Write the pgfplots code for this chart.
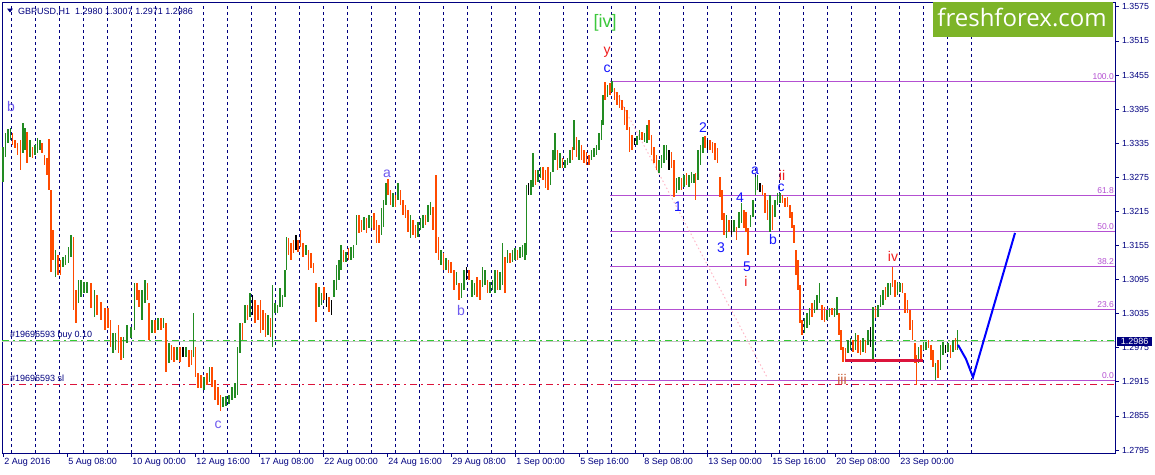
\documentclass[border=0pt]{standalone}
\usepackage{fontspec}
\setmainfont{Liberation Sans}
\newfontfamily\opensans{Open Sans}
\usepackage{pgfplots}
\usepackage{pgfplotstable}
\pgfplotsset{compat=1.18}
\definecolor{mtnavy}{RGB}{0,0,128}
\definecolor{cgreen}{RGB}{34,139,34}
\definecolor{corange}{RGB}{255,75,0}
\definecolor{fibc}{RGB}{180,80,210}
\definecolor{ordgreen}{RGB}{50,205,50}
\definecolor{ordred}{RGB}{220,20,60}
\definecolor{logogreen}{RGB}{125,180,40}
\definecolor{wblue}{RGB}{20,20,255}
\definecolor{wslate}{RGB}{110,90,240}
\definecolor{wred}{RGB}{240,30,30}
\definecolor{wbrown}{RGB}{200,90,50}
\definecolor{wgreen}{RGB}{60,200,60}
\definecolor{pinkdot}{RGB}{255,185,200}
\definecolor{projblue}{RGB}{0,0,255}

\pgfplotstableread{
x hi lo
3 1.3328 1.3267
5.5 1.3353 1.3311
8 1.3360 1.3335
10.5 1.3362 1.3341
23 1.3371 1.3318
25 1.3362 1.3323
30 1.3341 1.3311
35 1.3332 1.3314
37.5 1.3344 1.3318
40 1.3341 1.3323
55.5 1.3147 1.3099
63 1.3135 1.3117
65.5 1.3138 1.3121
68.5 1.3152 1.3124
71 1.3173 1.3135
78.5 1.3094 1.3054
81 1.3094 1.3064
84 1.3091 1.3071
87 1.3091 1.3071
94.5 1.3077 1.3029
113 1.3001 1.2966
115.5 1.3001 1.2971
123.5 1.2994 1.2957
127 1.3015 1.2983
131 1.3011 1.2992
134.5 1.3089 1.3006
142 1.3077 1.3024
145 1.3094 1.3054
152 1.3024 1.3001
158 1.3027 1.3006
163.5 1.3027 1.3010
169 1.2983 1.2948
177 1.2976 1.2953
186 1.2976 1.2959
193.5 1.3036 1.2959
204 1.2923 1.2901
209.5 1.2941 1.2915
223 1.2888 1.2871
226 1.2890 1.2872
229 1.2892 1.2876
232 1.2906 1.2883
235 1.2913 1.2887
237.5 1.2976 1.2892
240 1.3019 1.2966
245 1.3050 1.3019
250 1.3071 1.3029
268 1.3033 1.2997
272.5 1.3085 1.2976
275 1.3054 1.3036
277.5 1.3050 1.3036
280 1.3080 1.3047
282.5 1.3068 1.3047
285 1.3112 1.3064
286.5 1.3170 1.3112
306 1.3156 1.3138
319 1.3082 1.3047
321.5 1.3071 1.3050
334 1.3094 1.3064
336.5 1.3121 1.3077
339 1.3129 1.3094
341 1.3156 1.3112
346 1.3143 1.3126
351 1.3152 1.3129
353.5 1.3156 1.3133
356.5 1.3209 1.3156
364 1.3205 1.3182
369 1.3209 1.3186
371.5 1.3205 1.3186
381.5 1.3221 1.3173
383.5 1.3235 1.3187
386 1.3265 1.3226
393 1.3247 1.3223
398 1.3265 1.3235
410.5 1.3209 1.3168
418 1.3196 1.3170
420.5 1.3203 1.3182
423 1.3209 1.3186
428 1.3226 1.3196
430.5 1.3231 1.3209
441 1.3147 1.3121
446 1.3133 1.3112
456.5 1.3108 1.3085
461.5 1.3089 1.3063
464 1.3112 1.3077
472 1.3094 1.3064
474.5 1.3089 1.3068
482.5 1.3117 1.3082
485 1.3112 1.3085
490 1.3091 1.3071
492.5 1.3094 1.3077
495 1.3112 1.3071
500 1.3108 1.3077
502.5 1.3159 1.3085
507.5 1.3147 1.3124
512.5 1.3147 1.3126
515 1.3151 1.3129
520 1.3152 1.3133
522.5 1.3156 1.3135
525 1.3159 1.3129
526.5 1.3261 1.3138
531 1.3270 1.3244
533 1.3318 1.3258
538 1.3288 1.3267
540.5 1.3293 1.3274
550.5 1.3284 1.3261
553 1.3323 1.3284
555 1.3353 1.3305
560 1.3318 1.3291
565 1.3305 1.3291
567.5 1.3309 1.3297
570 1.3323 1.3300
574 1.3376 1.3323
579 1.3341 1.3305
591.5 1.3323 1.3305
594 1.3327 1.3311
596.5 1.3332 1.3314
599 1.3353 1.3323
601.5 1.3376 1.3341
603 1.3420 1.3367
607.5 1.3437 1.3416
612 1.3444 1.3425
637 1.3348 1.3332
639.5 1.3358 1.3341
644.5 1.3353 1.3337
647 1.3367 1.3335
659 1.3305 1.3283
661.5 1.3314 1.3291
664 1.3332 1.3300
666.5 1.3332 1.3305
676.5 1.3274 1.3247
679 1.3276 1.3253
684 1.3279 1.3258
689 1.3279 1.3258
691.5 1.3284 1.3265
694 1.3281 1.3265
698 1.3323 1.3270
700.5 1.3332 1.3297
703 1.3346 1.3318
726.5 1.3209 1.3168
734 1.3200 1.3179
739 1.3214 1.3186
741.5 1.3230 1.3195
750.5 1.3209 1.3187
753 1.3235 1.3205
755.5 1.3276 1.3244
757.5 1.3279 1.3253
770 1.3244 1.3179
775 1.3235 1.3205
777.5 1.3247 1.3226
780 1.3247 1.3230
804.5 1.3027 1.3001
807 1.3036 1.3010
809.5 1.3045 1.3015
814.5 1.3059 1.3036
817 1.3068 1.3041
819.5 1.3089 1.3054
827 1.3041 1.3024
829.5 1.3045 1.3029
834.5 1.3045 1.3029
837 1.3064 1.3033
848 1.2989 1.2966
850.5 1.2992 1.2971
855.5 1.3001 1.2971
863 1.2992 1.2967
868 1.3006 1.2980
873 1.3047 1.2953
878 1.3050 1.3029
880.5 1.3068 1.3047
883 1.3077 1.3050
888 1.3089 1.3064
890.5 1.3089 1.3068
897.5 1.3091 1.3068
900 1.3089 1.3073
918.5 1.2976 1.2948
923.5 1.2985 1.2971
926 1.2985 1.2971
935.5 1.2948 1.2918
940.5 1.2980 1.2936
943 1.2985 1.2962
948 1.2983 1.2967
953 1.2989 1.2967
957.5 1.3007 1.2971
}\greenbars

\pgfplotstableread{
x hi lo
12.5 1.3353 1.3332
15 1.3341 1.3327
17.5 1.3335 1.3314
20.5 1.3341 1.3288
27 1.3355 1.3300
32.5 1.3328 1.3309
42 1.3335 1.3318
44.5 1.3314 1.3297
47 1.3309 1.3279
49 1.3342 1.3253
51 1.3253 1.3108
53 1.3182 1.3129
58 1.3138 1.3103
60.5 1.3129 1.3103
73.5 1.3170 1.3041
76 1.3077 1.3019
91 1.3089 1.3045
97 1.3068 1.3033
101 1.3055 1.3024
105 1.3045 1.3006
108 1.3045 1.3010
110.5 1.3024 1.2976
118.5 1.3015 1.2966
121 1.2994 1.2953
137 1.3089 1.3059
139 1.3077 1.3047
147.5 1.3089 1.3059
149 1.3054 1.2989
155 1.3024 1.3001
161 1.3027 1.3006
166 1.3019 1.2932
171.5 1.2980 1.2953
174 1.2976 1.2950
180 1.2976 1.2950
189 1.2971 1.2941
191.5 1.2971 1.2945
195.5 1.2976 1.2923
198 1.2931 1.2904
201 1.2927 1.2904
207 1.2931 1.2909
212 1.2941 1.2906
215 1.2918 1.2883
218 1.2906 1.2874
220.5 1.2892 1.2864
242.5 1.3019 1.2989
247.5 1.3050 1.3024
255 1.3059 1.3019
258 1.3050 1.3024
260.5 1.3059 1.3001
263 1.3041 1.3006
265.5 1.3036 1.2994
270.5 1.3027 1.2994
288.5 1.3168 1.3138
291 1.3159 1.3129
293.5 1.3165 1.3142
298 1.3165 1.3143
300.5 1.3182 1.3152
303 1.3159 1.3135
308.5 1.3147 1.3112
311 1.3142 1.3115
313.5 1.3124 1.3107
316 1.3089 1.3020
324 1.3082 1.3059
329 1.3064 1.3038
343.5 1.3147 1.3126
348.5 1.3151 1.3129
359 1.3209 1.3177
361.5 1.3200 1.3179
366.5 1.3203 1.3177
374 1.3212 1.3182
376.5 1.3200 1.3159
379 1.3191 1.3159
388 1.3272 1.3244
390.5 1.3253 1.3226
395.5 1.3244 1.3223
400.5 1.3253 1.3226
403 1.3235 1.3209
405.5 1.3226 1.3203
408 1.3217 1.3179
413 1.3200 1.3173
415.5 1.3191 1.3168
425.5 1.3209 1.3191
433 1.3223 1.3182
436 1.3279 1.3142
438.5 1.3170 1.3129
443.5 1.3142 1.3112
448.5 1.3129 1.3107
451 1.3126 1.3107
454 1.3112 1.3077
459 1.3089 1.3059
469 1.3112 1.3094
477 1.3099 1.3064
480 1.3094 1.3059
487.5 1.3094 1.3071
497.5 1.3112 1.3077
505 1.3135 1.3071
510 1.3142 1.3124
517.5 1.3147 1.3129
535.5 1.3288 1.3261
543 1.3293 1.3270
545.5 1.3288 1.3256
548 1.3293 1.3253
557.5 1.3323 1.3288
562.5 1.3309 1.3291
572.5 1.3328 1.3305
576.5 1.3346 1.3311
581.5 1.3332 1.3305
584 1.3323 1.3300
586.5 1.3319 1.3297
589 1.3314 1.3297
605 1.3443 1.3411
610 1.3441 1.3420
614.5 1.3432 1.3411
617 1.3425 1.3402
619.5 1.3420 1.3397
622 1.3411 1.3393
624.5 1.3399 1.3367
627 1.3393 1.3358
629.5 1.3363 1.3319
632 1.3349 1.3323
642 1.3355 1.3341
649 1.3376 1.3341
651.5 1.3349 1.3314
654 1.3328 1.3300
656.5 1.3314 1.3288
671.5 1.3319 1.3291
674 1.3305 1.3240
681.5 1.3274 1.3253
686.5 1.3283 1.3261
695.5 1.3283 1.3235
705 1.3348 1.3327
710 1.3341 1.3323
712.5 1.3337 1.3318
715 1.3335 1.3305
717.5 1.3327 1.3300
720 1.3276 1.3240
722 1.3253 1.3200
724 1.3212 1.3173
729 1.3200 1.3179
736.5 1.3187 1.3165
744 1.3217 1.3186
746 1.3214 1.3179
748 1.3186 1.3138
762.5 1.3261 1.3244
765 1.3247 1.3212
767.5 1.3235 1.3200
772.5 1.3226 1.3182
782.5 1.3244 1.3230
785 1.3238 1.3223
787.5 1.3240 1.3223
790 1.3226 1.3203
792 1.3214 1.3186
794 1.3191 1.3159
796 1.3147 1.3103
798 1.3129 1.3077
800 1.3085 1.3019
802 1.3024 1.2997
812 1.3054 1.3029
822 1.3050 1.3024
824.5 1.3047 1.3020
832 1.3045 1.3033
839 1.3036 1.2997
841 1.3006 1.2971
843 1.2976 1.2950
845.5 1.2975 1.2950
853 1.2989 1.2967
858 1.2997 1.2966
860.5 1.2989 1.2962
865.5 1.2989 1.2966
875.5 1.3047 1.3027
885.5 1.3082 1.3059
892.5 1.3117 1.3082
895 1.3094 1.3064
902.5 1.3089 1.3071
905 1.3071 1.3036
907.5 1.3059 1.3036
910 1.3041 1.3006
912.5 1.3024 1.2989
915 1.2983 1.2948
916.5 1.2962 1.2909
921 1.2980 1.2953
928.5 1.2989 1.2975
931 1.2980 1.2953
933 1.2971 1.2941
938 1.2953 1.2922
950.5 1.2980 1.2957
955.5 1.2992 1.2971
}\orangebars

\pgfplotstableread{
x hi lo
183 1.2976 1.2959
252.5 1.3068 1.3033
296 1.3173 1.3147
326.5 1.3071 1.3047
331.5 1.3059 1.3033
466.5 1.3117 1.3094
528.5 1.3265 1.3244
634.5 1.3344 1.3332
669 1.3323 1.3288
707.5 1.3341 1.3323
731.5 1.3200 1.3173
760 1.3265 1.3249
870.5 1.3011 1.2976
945.5 1.2980 1.2966
}\blackbars

\pgfplotsset{
  candle/.style={draw=none, mark=none,
    error bars/y dir=both, error bars/y explicit,
    error bars/error mark=none,
    error bars/error bar style={line width=1.7pt, draw=#1}},
}
\newcommand\wl[4]{\node[text=#1, font=\fontsize{14}{16}\selectfont, inner sep=0pt] at (axis cs:#2,#3) {#4};}
\newcommand\fl[2]{\node[anchor=south east, text=fibc, font=\fontsize{8.5}{9}\selectfont, inner xsep=1pt, inner ysep=1.8pt] at (axis cs:1115,#1) {#2};}

\begin{document}
\begin{tikzpicture}
\useasboundingbox (0,0) rectangle (1155pt,474pt);
\begin{axis}[
  at={(2pt,21pt)}, anchor=south west, scale only axis,
  width=1113pt, height=451pt,
  xmin=2, xmax=1115, ymin=1.27897, ymax=1.35835,
  clip=false,
  axis line style={mtnavy, line width=0.9pt},
  axis background/.style={fill=white},
  xtick pos=left, ytick pos=right, yticklabel pos=right,
  tick align=outside, major tick length=3.5pt,
  tick style={mtnavy, line width=0.8pt},
  xtick={3,67,131,195,259,323,387,451,515,579,643,707,771,835,899},
  xticklabels={2 Aug 2016,5 Aug 08:00,10 Aug 00:00,12 Aug 16:00,17 Aug 08:00,22 Aug 00:00,24 Aug 16:00,29 Aug 08:00,1 Sep 00:00,5 Sep 16:00,8 Sep 08:00,13 Sep 00:00,15 Sep 16:00,20 Sep 08:00,23 Sep 00:00},
  xticklabel style={anchor=north west, inner xsep=1.2pt, inner ysep=2pt, font=\fontsize{9}{10}\selectfont, text=mtnavy},
  ytick={1.2795,1.2855,1.2915,1.2975,1.3035,1.3095,1.3155,1.3215,1.3275,1.3335,1.3395,1.3455,1.3515,1.3575},
  yticklabels={1.2795,1.2855,1.2915,1.2975,1.3035,1.3095,1.3155,1.3215,1.3275,1.3335,1.3395,1.3455,1.3515,1.3575},
  yticklabel style={anchor=west, font=\fontsize{8.8}{10}\selectfont, text=mtnavy},
  extra x ticks={11.7,35.7,59.7,83.7,107.7,131.7,155.7,179.7,203.7,227.7,251.7,275.7,299.7,323.7,347.7,371.7,395.7,419.7,443.7,467.7,491.7,515.7,539.7,563.7,587.7,611.7,635.7,659.7,683.7,707.7,731.7,755.7,779.7,803.7,827.7,851.7,875.7,899.7,923.7,947.7,971.7},
  extra x tick labels={},
  extra x tick style={grid=major, major tick length=0pt},
  major grid style={mtnavy, dash pattern=on 3pt off 3pt, line width=0.8pt},
]
% logo
\fill[logogreen] (axis cs:933,1.35835) rectangle (axis cs:1113,1.35219);
\node[text=white, font=\opensans\fontsize{24}{26}\selectfont, anchor=base, inner sep=0pt] at (axis cs:1022,1.3541) {freshforex.com};

% fibonacci levels
\addplot[fibc, line width=1pt] coordinates {(610,1.34436) (1115,1.34436)};
\addplot[fibc, line width=1pt] coordinates {(610,1.32429) (1115,1.32429)};
\addplot[fibc, line width=1pt] coordinates {(610,1.31796) (1115,1.31796)};
\addplot[fibc, line width=1pt] coordinates {(610,1.31180) (1115,1.31180)};
\addplot[fibc, line width=1pt] coordinates {(610,1.30423) (1115,1.30423)};
\addplot[fibc, line width=1pt] coordinates {(610,1.29173) (1115,1.29173)};
\fl{1.34436}{100.0}
\fl{1.32429}{61.8}
\fl{1.31796}{50.0}
\fl{1.31180}{38.2}
\fl{1.30423}{23.6}
\fl{1.29173}{0.0}

% order lines
\addplot[gray!45, line width=1pt] coordinates {(2,1.29859) (1115,1.29859)};
\addplot[ordgreen, line width=1pt, dash pattern=on 7pt off 4pt on 2pt off 4pt] coordinates {(2,1.29877) (1115,1.29877)};
\addplot[ordred, line width=1pt, dash pattern=on 7pt off 4pt on 2pt off 4pt] coordinates {(2,1.29103) (1115,1.29103)};
\node[anchor=base west, text=mtnavy, font=\fontsize{9}{10}\selectfont, inner sep=0pt] at (axis cs:10,1.2993) {\#19696593 buy 0.10};
\node[anchor=base west, text=mtnavy, font=\fontsize{9}{10}\selectfont, inner sep=0pt] at (axis cs:10,1.2915) {\#19696593 sl};

% pink dotted trend line
\addplot[pinkdot, line width=1pt, dash pattern=on 1.5pt off 2.5pt] coordinates {(612,1.3437) (767,1.2923)};

% candles
\addplot[candle=cgreen] table[x=x, y expr={(\thisrow{hi}+\thisrow{lo})/2}, y error expr={(\thisrow{hi}-\thisrow{lo})/2}] {\greenbars};
\addplot[candle=corange] table[x=x, y expr={(\thisrow{hi}+\thisrow{lo})/2}, y error expr={(\thisrow{hi}-\thisrow{lo})/2}] {\orangebars};
\addplot[candle=black] table[x=x, y expr={(\thisrow{hi}+\thisrow{lo})/2}, y error expr={(\thisrow{hi}-\thisrow{lo})/2}] {\blackbars};

% red support line
\addplot[ordred, line width=3pt] coordinates {(845,1.2952) (923,1.2952)};
% blue projection
\addplot[projblue, line width=2pt] coordinates {(958,1.2980) (966,1.2955) (973,1.2923) (1015,1.3177)};

% title
\fill[mtnavy] (axis cs:7,1.3572) -- (axis cs:13,1.3572) -- (axis cs:10,1.3565) -- cycle;
\node[anchor=base west, text=mtnavy, font=\fontsize{9}{10}\selectfont, inner sep=0pt] at (axis cs:18,1.3562) {GBPUSD,H1\ \ 1.2980 1.3007 1.2971 1.2986};

% wave labels
\wl{wslate}{11}{1.3400}{b}
\wl{wslate}{387}{1.3281}{a}
\wl{wslate}{461}{1.3040}{b}
\wl{wslate}{218}{1.2839}{c}
\wl{wblue}{607}{1.3466}{c}
\wl{wred}{607}{1.3495}{y}
\node[text=wgreen, font=\fontsize{18}{20}\selectfont, inner sep=0pt] at (axis cs:605,1.3547) {[iv]};
\wl{wblue}{678}{1.3224}{1}
\wl{wblue}{703}{1.3363}{2}
\wl{wblue}{721}{1.3151}{3}
\wl{wblue}{740}{1.3239}{4}
\wl{wblue}{747}{1.3117}{5}
\wl{wblue}{755}{1.3286}{a}
\wl{wblue}{773}{1.3165}{b}
\wl{wblue}{781}{1.3256}{c}
\wl{wred}{746}{1.3091}{i}
\wl{wred}{782}{1.3279}{ii}
\wl{wbrown}{842}{1.2920}{iii}
\wl{wred}{893}{1.3135}{iv}

\coordinate (pb) at (axis cs:1117,1.2986);
\end{axis}
\node[anchor=west, fill=mtnavy, text=white, font=\fontsize{9}{10}\selectfont, inner xsep=3.7pt, inner ysep=1.5pt] at (pb) {1.2986};
\end{tikzpicture}
\end{document}
